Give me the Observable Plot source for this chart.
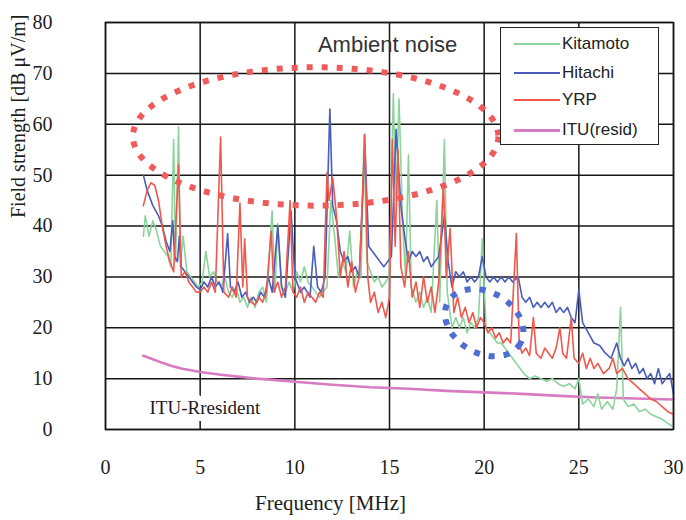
<!DOCTYPE html>
<html><head><meta charset="utf-8">
<script src="https://cdn.jsdelivr.net/npm/d3@7"></script>
<script src="https://cdn.jsdelivr.net/npm/@observablehq/plot@0.6"></script>
<style>
body{margin:0;background:#fff;}
#wrap{position:relative;width:686px;height:520px;overflow:hidden;}
#legend{position:absolute;left:500px;top:27px;width:157px;height:116px;border:1.5px solid #222;background:#fff;font-family:"Liberation Sans",Arial,sans-serif;font-size:17px;color:#222;}
.sw{position:absolute;left:13px;width:46px;}
.lab{position:absolute;left:61px;line-height:18px;}
</style></head><body><div id="wrap"></div>
<script>
// ---- data ----
const seriesNames = ["Kitamoto", "Hitachi", "YRP", "ITU(resid)"];
const seriesColors = ["#8dd39c", "#4a5cbd", "#f0584c", "#d77bc3"];

const kitFreq = [2.0,2.1,2.3,2.5,2.7,2.9,3.1,3.3,3.45,3.6,3.7,3.86,3.95,4.1,4.3,4.5,4.7,4.9,5.1,5.3,5.5,5.7,5.9,6.1,6.3,6.5,6.7,6.9,7.1,7.3,7.5,7.7,7.9,8.1,8.3,8.5,8.8,8.95,9.1,9.3,9.5,9.7,9.9,10.1,10.3,10.5,10.7,10.9,11.1,11.3,11.5,11.7,11.9,12.1,12.3,12.5,12.7,12.9,13.1,13.3,13.5,13.65,13.8,14.0,14.2,14.4,14.6,14.8,15.0,15.2,15.35,15.5,15.7,15.85,16.0,16.15,16.4,16.6,16.8,17.0,17.2,17.5,17.65,17.9,18.05,18.3,18.5,18.7,18.9,19.1,19.3,19.5,19.7,19.9,20.1,20.3,20.5,20.7,20.9,21.1,21.3,21.5,21.7,21.9,22.1,22.4,22.7,23.0,23.3,23.6,23.9,24.2,24.5,24.8,25.0,25.2,25.5,25.8,26.0,26.2,26.5,26.8,27.0,27.2,27.35,27.6,27.9,28.2,28.5,28.8,29.1,29.4,29.7,30.0];
const kitVal = [38,42,38,41,39,36,35,34,32,57,33,59.5,32,38,31,30,29,28,29,35,30,31,29,28,30,27,26,28,25,26,24,26,24,27,28,25,43,27,40.5,28,27,29,27,31,29,32,29,28,27,26,27,28,45,38,30,33,31,39,28,31,30,58,33,31,29,30,28,29,30,66,45,65,40,30,54,28,25,27,24,26,23,45,25,57,27,20,22,20,22,19,21,20,22,37.5,20,19,18,17,17,16,15,14,13,12,11,10,10.5,10,9.5,10,9,8.5,9,8,10,5,6,4.5,7,4,5.5,4,8,24,6,4.5,5,3.5,4,3,2.5,2,1.2,0.5];

const hitFreq = [2.0,2.2,2.5,2.8,3.0,3.2,3.4,3.55,3.65,3.8,3.9,4.0,4.2,4.4,4.6,4.8,5.0,5.2,5.4,5.6,5.8,6.0,6.2,6.45,6.6,6.8,7.0,7.2,7.4,7.6,7.8,8.0,8.2,8.4,8.6,8.8,9.1,9.3,9.5,9.8,10.0,10.3,10.5,10.8,11.0,11.2,11.4,11.6,11.85,12.0,12.2,12.4,12.6,12.8,13.0,13.2,13.4,13.7,13.9,14.1,14.3,14.5,14.7,14.9,15.1,15.35,15.6,15.8,16.0,16.2,16.4,16.6,16.8,17.0,17.2,17.4,17.6,17.9,18.1,18.3,18.5,18.7,18.9,19.1,19.3,19.5,19.7,19.9,20.1,20.3,20.5,20.7,20.9,21.1,21.3,21.5,21.8,22.0,22.2,22.4,22.6,22.8,23.0,23.2,23.4,23.6,23.8,24.0,24.2,24.4,24.6,24.8,25.0,25.2,25.5,25.8,26.1,26.4,26.7,27.0,27.2,27.4,27.6,27.8,28.0,28.2,28.4,28.6,28.8,29.0,29.2,29.4,29.6,29.8,30.0];
const hitVal = [50,47,44,42,40,37,35,41,34,33,38,32,31,30,29,28,27.5,29,28,30,28,29,27,38.5,28,27,29,26,27,25,26,25,27,26,30,27,40,28,26,43,30,27,28,26,36,28,27,30,63,44,41,35,33,34,31,32,30,56,36,35,34,33,32,33,34,59,44,38,33,35,34,35,33,34,32,33,34,42,33,28,31,30,31,29,30,29,30,34,30,29,30,29,30,29,30,29,30,26,25,26,24,25,24,25,24,25,23,24,23,24,22,21,27.5,21,19,17,16.5,15,14,17,14,12.5,14,12,13,11,12,10,11,9,12,9,10,11,7];

const yrpFreq = [2.0,2.2,2.4,2.6,2.8,3.0,3.2,3.4,3.6,3.86,4.0,4.2,4.4,4.6,4.8,5.0,5.2,5.4,5.6,5.8,6.08,6.25,6.5,6.7,6.9,7.1,7.25,7.35,7.5,7.7,7.9,8.1,8.3,8.5,8.75,8.9,9.1,9.3,9.5,9.75,9.9,10.1,10.3,10.5,10.7,10.9,11.1,11.3,11.5,11.7,11.8,12.0,12.2,12.4,12.6,12.8,13.0,13.2,13.4,13.7,13.85,14.0,14.2,14.4,14.6,14.8,15.0,15.15,15.3,15.45,15.6,15.8,16.0,16.2,16.4,16.6,16.8,17.0,17.2,17.4,17.6,17.85,18.0,18.2,18.4,18.6,18.8,19.0,19.2,19.4,19.6,19.8,20.0,20.2,20.4,20.6,20.8,21.0,21.2,21.4,21.7,21.85,22.0,22.2,22.4,22.6,22.75,23.0,23.2,23.4,23.6,23.8,24.0,24.15,24.35,24.6,24.75,25.0,25.2,25.4,25.6,25.8,26.0,26.3,26.6,26.8,27.0,27.3,27.6,27.9,28.2,28.5,28.8,29.1,29.4,29.7,30.0];
const yrpVal = [44,47,48.5,48,45,40,36,33,31,52,30,31,29,28,27,27,28,27,29,27,57.5,27,26,28,26,44.5,28,37.5,26,25,24.5,26,25,27,39,27,29,26,28,45,27,26,28,25,27,26,25,27,26,50.5,45,49.5,42,30,35,28,33,27,30,58,30,25,27,23,25,22,26,57,36,55,32,28,35,26,29,24,30,25,28,23,29,48,30,39.5,23,26,22,24,21,23,20,22,21,19,20,18,19,17,18,17,38.5,17,15,16,14.5,22,15,14,16,15,14,16,20,15,14,22,14,13,15,12,14,12,13,11,12,14,11,12,10,9,8,7,6,5.5,4.5,3.5,3];

const ituFreq = [2,2.5,3,3.5,4,5,6,7,8,9,10,12,14,16,18,20,22,24,26,28,30];
const ituVal = [14.5,13.8,13.1,12.5,12,11.3,10.8,10.4,10,9.7,9.4,8.8,8.3,8,7.6,7.3,7,6.6,6.3,6.1,5.9];

const xTicks = [0,5,10,15,20,25,30];
const yTicks = [0,10,20,30,40,50,60,70,80];

// annotations (data units)
const annotText = ["Ambient noise", "ITU-Rresident"];
const annotX = [14.9, 5.25];
const annotY = [75.6, 4.2];
// ellipses: centre (MHz, dB), semi-axes (MHz, dB), tilt (deg, on screen, clockwise)
const ellipseCx = [11.1, 20.0];
const ellipseCy = [57.6, 21.0];
const ellipseRx = [9.65, 2.2];
const ellipseRy = [13.6, 6.0];
const ellipseTilt = [0, 30];
const ellipseColors = ["#ef5b5b", "#4e6ed3"];

// ---- layout ----
const W = 686, H = 520, mL = 105, mR = 13, mT = 22, mB = 91;
const kx = (W - mL - mR) / 30, ky = (H - mT - mB) / 80;

const rows = (fs, vs) => fs.map((f, i) => ({f, v: vs[i]}));
const kit = rows(kitFreq, kitVal), hit = rows(hitFreq, hitVal), yrp = rows(yrpFreq, yrpVal), itu = rows(ituFreq, ituVal);

function ellipsePts(i) {
  const pts = [], th = ellipseTilt[i] * Math.PI / 180;
  for (let k = 0; k <= 120; k++) {
    const t = (k / 120) * 2 * Math.PI;
    const u = ellipseRx[i] * kx * Math.cos(t), w = ellipseRy[i] * ky * Math.sin(t);
    const dx = u * Math.cos(th) - w * Math.sin(th), dy = u * Math.sin(th) + w * Math.cos(th);
    pts.push({f: ellipseCx[i] + dx / kx, v: ellipseCy[i] - dy / ky});
  }
  return pts;
}

const serif = '"Liberation Serif","Times New Roman",serif';
const sans = '"Liberation Sans",Arial,sans-serif';

const chart = Plot.plot({
  width: W, height: H, marginLeft: mL, marginRight: mR, marginTop: mT, marginBottom: mB,
  style: {fontFamily: serif, fontSize: "20px", color: "#1c1c1c", background: "#fff"},
  x: {domain: [0, 30]},
  y: {domain: [0, 80]},
  marks: [
    Plot.gridX(xTicks, {stroke: "#161616", strokeOpacity: 1, strokeWidth: 1.5}),
    Plot.gridY(yTicks, {stroke: "#161616", strokeOpacity: 1, strokeWidth: 1.5}),
    Plot.line(itu, {x: "f", y: "v", stroke: seriesColors[3], strokeWidth: 2.6}),
    Plot.line(kit, {x: "f", y: "v", stroke: seriesColors[0], strokeWidth: 1.6}),
    Plot.line(hit, {x: "f", y: "v", stroke: seriesColors[1], strokeWidth: 1.6}),
    Plot.line(yrp, {x: "f", y: "v", stroke: seriesColors[2], strokeWidth: 1.6}),
    Plot.line(ellipsePts(0), {x: "f", y: "v", stroke: ellipseColors[0], strokeWidth: 6, strokeDasharray: "6,9", strokeLinecap: "butt"}),
    Plot.line(ellipsePts(1), {x: "f", y: "v", stroke: ellipseColors[1], strokeWidth: 6, strokeDasharray: "6,9", strokeLinecap: "butt"}),
    Plot.text([0], {x: () => annotX[0], y: () => annotY[0], text: () => annotText[0], fontFamily: sans, fontSize: 22, fill: "#333"}),
    Plot.text([1], {x: () => annotX[1], y: () => annotY[1], text: () => annotText[1], fontFamily: serif, fontSize: 19, fill: "#1c1c1c", stroke: "white", strokeWidth: 14}),
    Plot.frame({stroke: "#161616", strokeWidth: 1.5}),
    Plot.axisX(xTicks, {tickSize: 0, tickPadding: 30, label: null, fontSize: 20}),
    Plot.axisY(yTicks, {tickSize: 0, tickPadding: 53, label: null, fontSize: 20}),
    Plot.text(["Frequency [MHz]"], {frameAnchor: "bottom", dx: -59, dy: 80, fontSize: 21}),
    Plot.text(["Field strength [dB \u03bcV/m]"], {frameAnchor: "left", rotate: -90, dx: -87, dy: -8, fontSize: 20})
  ]
});
const wrap = document.getElementById("wrap");
wrap.appendChild(chart);

// legend
const leg = document.createElement("div");
leg.id = "legend";
const rowY = [16, 45, 72, 102];
seriesNames.forEach((n, i) => {
  const sw = document.createElement("div");
  sw.className = "sw";
  const th = i === 3 ? 3 : 1.5;
  sw.style.top = (rowY[i] - th / 2) + "px";
  sw.style.height = th + "px";
  sw.style.background = seriesColors[i];
  leg.appendChild(sw);
  const lb = document.createElement("div");
  lb.className = "lab";
  lb.style.top = (rowY[i] - 9) + "px";
  lb.textContent = n;
  leg.appendChild(lb);
});
wrap.appendChild(leg);
</script>
</body></html>
